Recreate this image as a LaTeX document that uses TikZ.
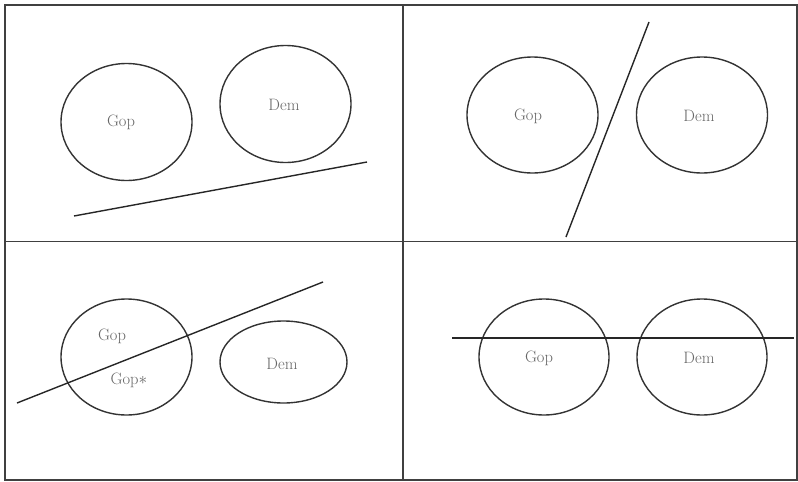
\documentclass[tikz,border=0pt]{standalone}
\usetikzlibrary{shapes.geometric}
\begin{document}
\begin{tikzpicture}[x=1pt,y=-1pt,
  frame/.style={draw=black!75,line width=1.1pt},
  blob/.style={ellipse,draw=black!80,line width=1.4pt,inner sep=0pt,minimum width=131pt,minimum height=117pt},
  lbl/.style={text=black!60,font=\fontsize{16.5}{16.5}\selectfont,inner sep=0pt},
  cut/.style={draw=black!85,line width=1.4pt}]
\useasboundingbox (0,0) rectangle (798,482);
% frame
\draw[frame] (5,5) rectangle (797,480);
\draw[frame] (403,5) -- (403,480);
\draw[frame,line width=0.8pt] (5,241) -- (797,241);
% top-left
\node[blob] (tlg) at (126.5,122) {};
\node[blob] (tld) at (285.5,104) {};
\node[lbl] (tlgl) at (121,122) {Gop};
\node[lbl] (tldl) at (284,105) {Dem};
\coordinate (tla) at (74,216);
\coordinate (tlb) at (367,162);
\draw[cut] (tla) -- (tlb);
% top-right
\node[blob,minimum height=116pt] (trg) at (532.5,115) {};
\node[blob,minimum height=116pt] (trd) at (702,115) {};
\node[lbl] (trgl) at (528,116) {Gop};
\node[lbl] (trdl) at (699,116) {Dem};
\coordinate (tra) at (566,237);
\coordinate (trb) at (649,22);
\draw[cut] (tra) -- (trb);
% bottom-left
\node[blob,minimum height=116pt] (blg) at (126.5,357) {};
\node[blob,minimum width=127pt,minimum height=82pt] (bld) at (283.5,362) {};
\node[lbl] (blgl) at (112,336) {Gop};
\node[lbl] (blgs) at (129,380) {Gop$\ast$};
\node[lbl] (bldl) at (282,364) {Dem};
\coordinate (bla) at (17,403);
\coordinate (blb) at (323,282);
\draw[cut] (bla) -- (blb);
% bottom-right
\node[blob,minimum width=130pt,minimum height=116pt] (brg) at (544,357) {};
\node[blob,minimum width=130pt,minimum height=116pt] (brd) at (702,357) {};
\node[lbl] (brgl) at (539,358) {Gop};
\node[lbl] (brdl) at (699,358) {Dem};
\coordinate (bra) at (452,338);
\coordinate (brb) at (794,338);
\draw[cut] (bra) -- (brb);
\end{tikzpicture}
\end{document}
